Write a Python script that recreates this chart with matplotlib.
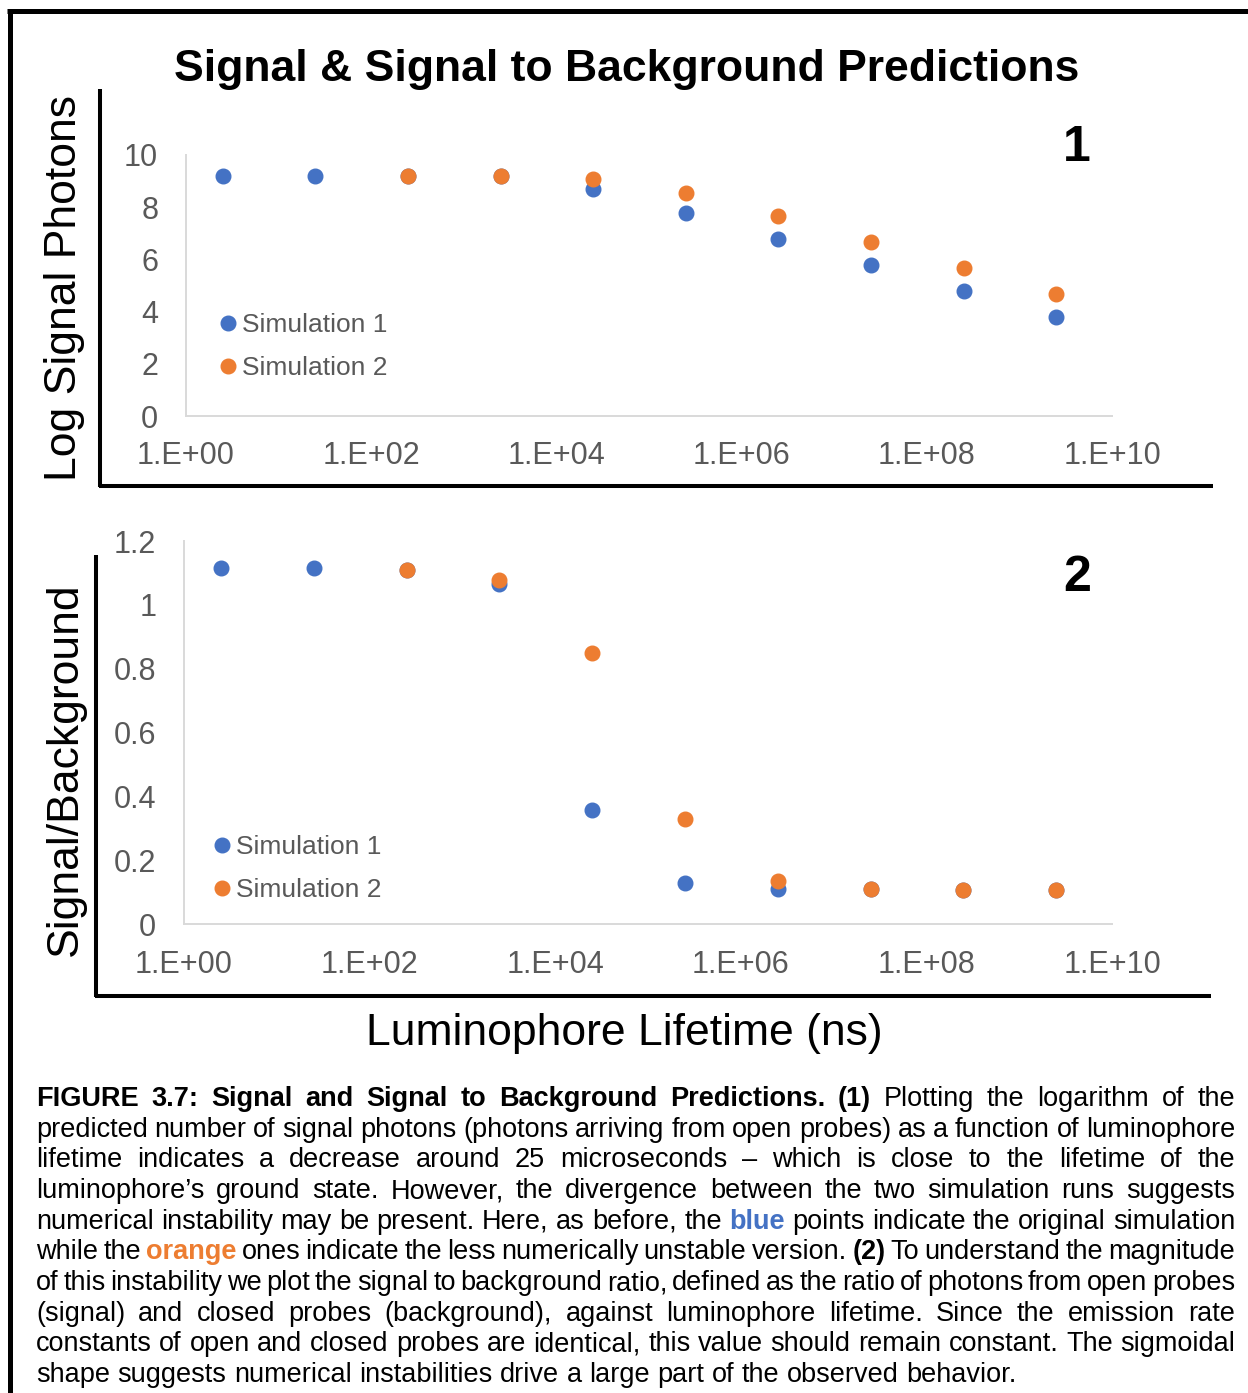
import matplotlib
matplotlib.use("Agg")
import matplotlib.pyplot as plt
from matplotlib.lines import Line2D
from matplotlib.ticker import FixedLocator, FixedFormatter, NullLocator

plt.rcParams['font.family'] = ['Liberation Sans', 'DejaVu Sans']

# ---------------- data ----------------
lifetime_ns = [2.5, 25, 250, 2.5e3, 2.5e4, 2.5e5, 2.5e6, 2.5e7, 2.5e8, 2.5e9]
sim1_log_signal = [9.2, 9.2, 9.2, 9.2, 8.7, 7.78, 6.78, 5.79, 4.79, 3.79]
sim2_lifetime_ns = [250, 2.5e3, 2.5e4, 2.5e5, 2.5e6, 2.5e7, 2.5e8, 2.5e9]
sim2_log_signal = [9.2, 9.2, 9.08, 8.54, 7.66, 6.67, 5.67, 4.67]
sim1_sig_bg = [1.116, 1.116, 1.11, 1.066, 0.357, 0.128, 0.11, 0.11, 0.107, 0.107]
sim2_sig_bg = [1.11, 1.078, 0.85, 0.329, 0.135, 0.11, 0.107, 0.107]

x_ticks = [1, 1e2, 1e4, 1e6, 1e8, 1e10]
x_tick_labels = ["1.E+00", "1.E+02", "1.E+04", "1.E+06", "1.E+08", "1.E+10"]
y1_ticks = [0, 2, 4, 6, 8, 10]
y1_tick_labels = ["0", "2", "4", "6", "8", "10"]
y2_ticks = [0, 0.2, 0.4, 0.6, 0.8, 1.0, 1.2]
y2_tick_labels = ["0", "0.2", "0.4", "0.6", "0.8", "1", "1.2"]
series_names = ["Simulation 1", "Simulation 2"]

title = "Signal & Signal to Background Predictions"
ylabel1 = "Log Signal Photons"
ylabel2 = "Signal/Background"
xlabel = "Luminophore Lifetime (ns)"

caption_lines = [
    [("FIGURE 3.7: Signal and Signal to Background Predictions. (1)", "b"),
     ("Plotting the logarithm of the", "n")],
    [("predicted number of signal photons (photons arriving from open probes) as a function of luminophore", "n")],
    [("lifetime indicates a decrease around 25 microseconds \u2013 which is close to the lifetime of the", "n")],
    [("luminophore\u2019s ground state. However, the divergence between the two simulation runs suggests", "n")],
    [("numerical instability may be present. Here, as before, the", "n"), ("blue", "blue"),
     ("points indicate the original simulation", "n")],
    [("while the", "n"), ("orange", "orange"),
     ("ones indicate the less numerically unstable version.", "n"), ("(2)", "b"),
     ("To understand the magnitude", "n")],
    [("of this instability we plot the signal to background ratio, defined as the ratio of photons from open probes", "n")],
    [("(signal) and closed probes (background), against luminophore lifetime. Since the emission rate", "n")],
    [("constants of open and closed probes are identical, this value should remain constant. The sigmoidal", "n")],
    [("shape suggests numerical instabilities drive a large part of the observed behavior.", "n")],
]

# ---------------- style ----------------
BLUE = "#4472C4"
ORANGE = "#ED7D31"
GRAY_TXT = "#595959"
GRAY_AX = "#D9D9D9"
W, H = 1248, 1393

fig = plt.figure(figsize=(W / 100, H / 100), dpi=100)


def fx(px):
    return px / W


def fy(py):
    return 1 - py / H


def setup_axes(ax, yticks, ylabels, ylim, xpad):
    ax.set_xscale("log")
    ax.set_xlim(1, 1e10)
    ax.set_ylim(*ylim)
    for s in ("top", "right"):
        ax.spines[s].set_visible(False)
    for s in ("left", "bottom"):
        ax.spines[s].set_color(GRAY_AX)
        ax.spines[s].set_linewidth(1.4)
    ax.xaxis.set_major_locator(FixedLocator(x_ticks))
    ax.xaxis.set_major_formatter(FixedFormatter(x_tick_labels))
    ax.xaxis.set_minor_locator(NullLocator())
    ax.set_yticks(yticks)
    ax.set_yticklabels(ylabels)
    ax.tick_params(axis="both", length=0, labelsize=22, labelcolor=GRAY_TXT)
    ax.tick_params(axis="x", pad=xpad)
    ax.tick_params(axis="y", pad=20)
    ax.patch.set_alpha(0)


LEG_KW = dict(frameon=False, fontsize=19, labelcolor=GRAY_TXT, handlelength=0.6,
              handletextpad=0.25, labelspacing=0.72, borderpad=0, borderaxespad=0)

# Panel 1
ax1 = fig.add_axes([fx(186), fy(416), fx(1112) - fx(186), fy(155) - fy(416)])
setup_axes(ax1, y1_ticks, y1_tick_labels, (0, 10), 18)
ax1.plot(lifetime_ns, sim1_log_signal, "o", color=BLUE, ms=10.5, label=series_names[0])
ax1.plot(sim2_lifetime_ns, sim2_log_signal, "o", color=ORANGE, ms=10.5, label=series_names[1])
ax1.legend(loc="upper left", bbox_to_anchor=(fx(220), fy(313)), bbox_transform=fig.transFigure,
           **LEG_KW)

# Panel 2
ax2 = fig.add_axes([fx(184), fy(924), fx(1112) - fx(184), fy(541) - fy(924)])
setup_axes(ax2, y2_ticks, y2_tick_labels, (0, 1.2), 19)
ax2.plot(lifetime_ns, sim1_sig_bg, "o", color=BLUE, ms=10.5, label=series_names[0])
ax2.plot(sim2_lifetime_ns, sim2_sig_bg, "o", color=ORANGE, ms=10.5, label=series_names[1])
ax2.legend(loc="upper left", bbox_to_anchor=(fx(214), fy(835)), bbox_transform=fig.transFigure,
           **LEG_KW)

# Frame lines
def hline(x0, x1, y, lw):
    fig.add_artist(Line2D([fx(x0), fx(x1)], [fy(y), fy(y)], color="black", lw=lw,
                          transform=fig.transFigure, solid_capstyle="butt"))


def vline(x, y0, y1, lw):
    fig.add_artist(Line2D([fx(x), fx(x)], [fy(y0), fy(y1)], color="black", lw=lw,
                          transform=fig.transFigure, solid_capstyle="butt"))


hline(7, W + 5, 10.5, 3.6)
vline(9.5, 8.5, H + 5, 3.6)
vline(100, 89, 487, 2.9)
hline(98.5, 1213, 485.5, 2.9)
vline(96, 555, 997, 2.9)
hline(94.5, 1211, 995.5, 2.9)

# Texts
fig.text(fx(627), fy(70), title, ha="center", va="center", fontsize=32, fontweight="bold")
fig.text(fx(65), fy(288), ylabel1, ha="center", va="center", rotation=90, fontsize=32)
fig.text(fx(65), fy(769), ylabel2, ha="center", va="center", rotation=90, fontsize=32)
fig.text(fx(624), fy(1033), xlabel, ha="center", va="center", fontsize=32)
fig.text(fx(1077), fy(148), "1", ha="center", va="center", fontsize=36, fontweight="bold")
fig.text(fx(1077), fy(578), "2", ha="center", va="center", fontsize=36, fontweight="bold")

# Caption (justified)
styles = {
    "n": dict(color="black", fontweight="normal"),
    "b": dict(color="black", fontweight="bold"),
    "blue": dict(color=BLUE, fontweight="bold"),
    "orange": dict(color=ORANGE, fontweight="bold"),
}
CAP_FS = 19.5
left_px, right_px = 36, 1235
first_baseline = 1106
line_step = 30.67
renderer = fig.canvas.get_renderer()
space_px = 0.278 * CAP_FS * 100 / 72

for i, segs in enumerate(caption_lines):
    words = []
    for txt, st in segs:
        for w in txt.split(" "):
            if w:
                words.append((w, st))
    y = fy(first_baseline + i * line_step)
    artists = []
    widths = []
    for w, st in words:
        t = fig.text(0, y, w, ha="left", va="baseline", fontsize=CAP_FS, **styles[st])
        bb = t.get_window_extent(renderer)
        artists.append(t)
        widths.append(bb.width)
    total = sum(widths)
    if i < len(caption_lines) - 1 and len(words) > 1:
        gap = (right_px - left_px - total) / (len(words) - 1)
    else:
        gap = space_px
    x = left_px
    for t, wd in zip(artists, widths):
        t.set_x(fx(x))
        x += wd + gap

fig.savefig("out.png", dpi=100)
